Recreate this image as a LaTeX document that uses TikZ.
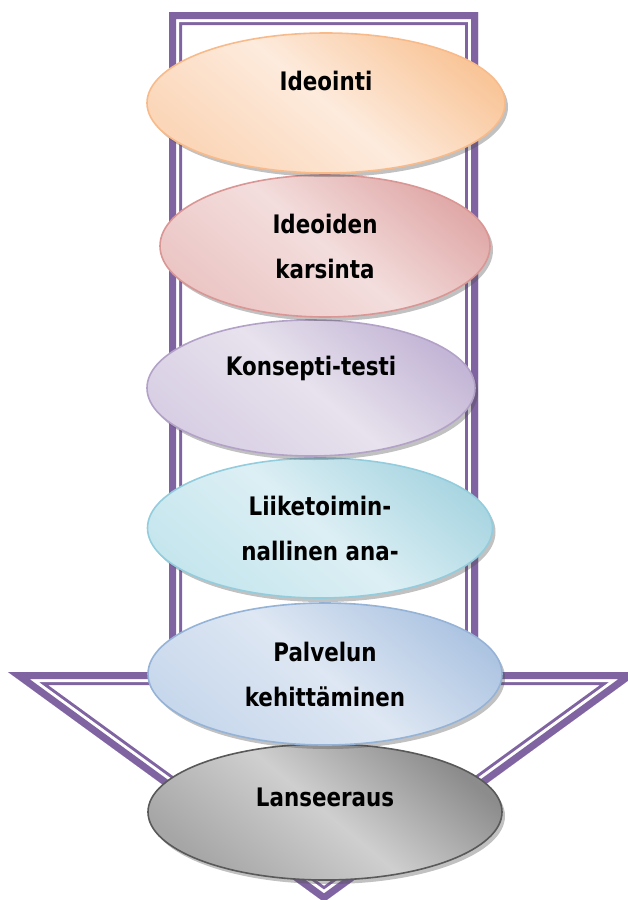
\documentclass[tikz,border=0pt]{standalone}
\usepackage{fontspec}
\setmainfont[FakeStretch=0.84]{DejaVu Sans}
\usepackage{tikz}
\usetikzlibrary{shapes.geometric,shadows}

\definecolor{arrowpurple}{HTML}{8064A2}
% border, dark, light, mid of each phase
\definecolor{peachline}{HTML}{F9BA8A}\definecolor{peachdark}{HTML}{F9C69A}
\definecolor{peachlight}{HTML}{FDEBDD}\definecolor{peachmid}{HTML}{FBD6B8}
\definecolor{pinkline}{HTML}{D99694}\definecolor{pinkdark}{HTML}{E0AAA9}
\definecolor{pinklight}{HTML}{F3DEDD}\definecolor{pinkmid}{HTML}{EBC6C5}
\definecolor{lilacline}{HTML}{B3A2C7}\definecolor{lilacdark}{HTML}{C4B6D6}
\definecolor{lilaclight}{HTML}{E7E2ED}\definecolor{lilacmid}{HTML}{D8CFE4}
\definecolor{cyanline}{HTML}{93CDDD}\definecolor{cyandark}{HTML}{AAD6E2}
\definecolor{cyanlight}{HTML}{DCEFF4}\definecolor{cyanmid}{HTML}{C6E6EE}
\definecolor{blueline}{HTML}{95B3D7}\definecolor{bluedark}{HTML}{AEC5E2}
\definecolor{bluelight}{HTML}{DEE7F3}\definecolor{bluemid}{HTML}{C8D8EC}
\definecolor{greyline}{HTML}{595959}\definecolor{greydark}{HTML}{8C8C8C}
\definecolor{greylight}{HTML}{CFCFCF}\definecolor{greymid}{HTML}{A6A6A6}

\tikzset{
  phase/.style={ellipse, line width=1.6pt, align=center,
    font=\bfseries\fontsize{25.5}{45}\selectfont, draw=#1line,
    top color=#1dark, bottom color=#1mid, middle color=#1light, shading angle=-40,
    drop shadow={shadow xshift=3pt, shadow yshift=-4pt, opacity=.35, fill=black!70}}
}

\begin{document}
\begin{tikzpicture}[x=1pt,y=-1pt]
                    \useasboundingbox (0,0) rectangle (627,900);
                    % the big arrow behind
                    \coordinate (a1) at (169,12);
                    \coordinate (a2) at (478,12);
                    \coordinate (a3) at (478,672);
                    \coordinate (a4) at (640,672);
                    \coordinate (a5) at (324,902);
                    \coordinate (a6) at (8,672);
                    \coordinate (a7) at (169,672);
                    \begin{scope}
                    \clip (a1) -- (a2) -- (a3) -- (a4) -- (a5) -- (a6) -- (a7) -- cycle;
                    \foreach \w/\c in {26/arrowpurple,20/white,14/arrowpurple}
                        \draw [draw=\c, line width=\w pt, line join=miter] (a1) -- (a2) -- (a3) -- (a4) -- (a5) -- (a6) -- (a7) -- cycle;
                    \end{scope}
                    % phases, last one first
                    \node [phase=grey, minimum width=354, minimum height=136] (lanseeraus) at (325,812) {Lanseeraus\\[-15pt]\mbox{}};
                    \node [phase=blue, minimum width=354, minimum height=142] (palvelu) at (325,674) {Palvelun\\kehittäminen};
                    \node [phase=cyan, minimum width=345, minimum height=140] (liiketoiminta) at (320,528) {Liiketoimin-\\nallinen ana-};
                    \node [phase=lilac, minimum width=328, minimum height=136] (konsepti) at (311,388) {Konsepti-testi\\\mbox{}};
                    \node [phase=pink, minimum width=330, minimum height=142] (karsinta) at (325,246) {Ideoiden\\karsinta};
                    \node [phase=peach, minimum width=358, minimum height=140] (ideointi) at (326,103) {Ideointi\\\mbox{}};
                \end{tikzpicture}
\end{document}
